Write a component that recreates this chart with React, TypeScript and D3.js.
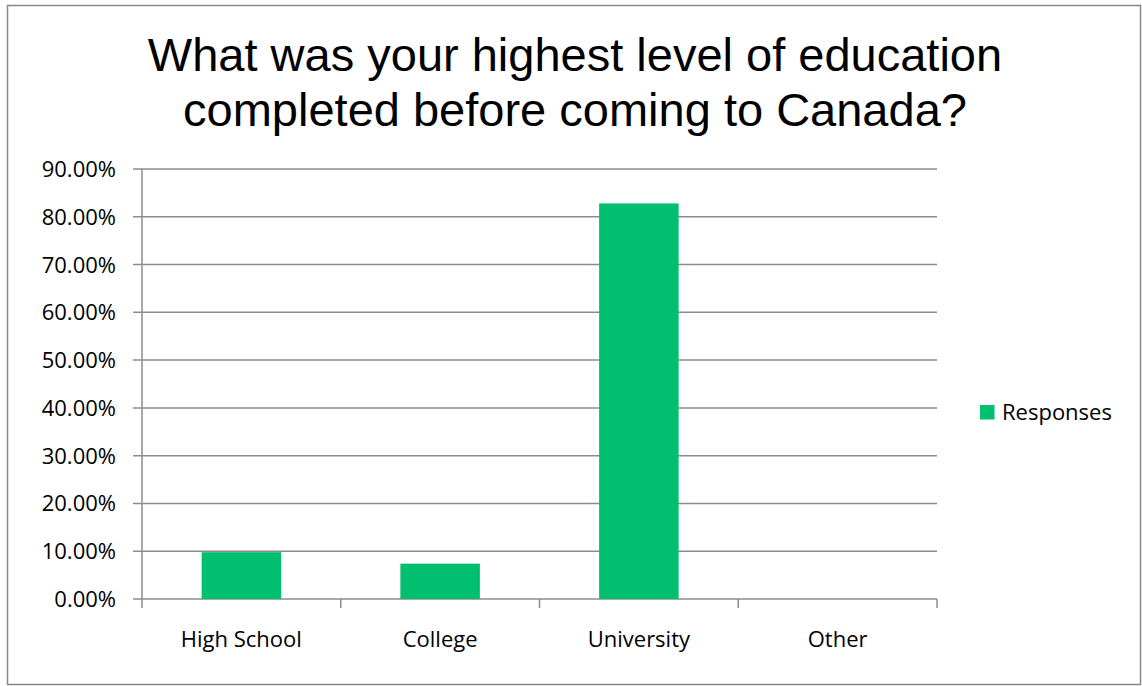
import React from "react";
import * as d3 from "d3";

const categories = ["High School", "College", "University", "Other"];
const responses = [9.8, 7.4, 82.8, 0];
const yTicks = [0, 10, 20, 30, 40, 50, 60, 70, 80, 90];
const titleLines = ["What was your highest level of education", "completed before coming to Canada?"];
const seriesName = "Responses";

const W = 1142, H = 686;
const M = { left: 142, right: 937, top: 169, bottom: 599 };
const GREEN = "#00BF6F";
const AXIS = "#8c8c8c";
const LABEL_FONT = "'Open Sans', sans-serif";

export default function App() {
  const x = d3.scaleBand<string>().domain(categories).range([M.left, M.right]).paddingInner(0.6).paddingOuter(0.3);
  const xb = d3.scaleBand<string>().domain(categories).range([M.left, M.right]);
  const y = d3.scaleLinear().domain([0, 90]).range([M.bottom, M.top]);
  return (
    <svg width={W} height={H} style={{ position: "absolute", left: 0, top: 0 }}>
      <rect x={7.5} y={5.5} width={1133} height={679} fill="#fff" stroke="#888" strokeWidth={1.5} />
      {titleLines.map((t, i) => (
        <text key={i} x={575} y={71 + i * 55} textAnchor="middle" fontFamily="'Liberation Sans', Arial, sans-serif" fontSize={47} fill="#000">{t}</text>
      ))}
      {yTicks.map((t) => (
        <g key={t}>
          <line x1={133} x2={M.right} y1={y(t)} y2={y(t)} stroke={AXIS} strokeWidth={1.5} />
          <text x={116} y={y(t) + 8} textAnchor="end" fontFamily={LABEL_FONT} fontSize={22} fill="#000">{d3.format(".2f")(t) + "%"}</text>
        </g>
      ))}
      <line x1={M.left} x2={M.left} y1={M.top} y2={608} stroke={AXIS} strokeWidth={1.5} />
      {categories.map((c) => (
        <line key={"t" + c} x1={(xb(c) as number) + xb.bandwidth()} x2={(xb(c) as number) + xb.bandwidth()} y1={M.bottom} y2={608} stroke={AXIS} strokeWidth={1.5} />
      ))}
      {categories.map((c, i) => (
        <rect key={c} x={x(c)} y={y(responses[i])} width={x.bandwidth()} height={M.bottom - y(responses[i])} fill={GREEN} />
      ))}
      {categories.map((c) => (
        <text key={"l" + c} x={(xb(c) as number) + xb.bandwidth() / 2} y={647} textAnchor="middle" fontFamily={LABEL_FONT} fontSize={22} fill="#000">{c}</text>
      ))}
      <rect x={980} y={405} width={14.5} height={14.5} fill={GREEN} />
      <text x={1002} y={419.5} fontFamily={LABEL_FONT} fontSize={22} fill="#000">{seriesName}</text>
    </svg>
  );
}
